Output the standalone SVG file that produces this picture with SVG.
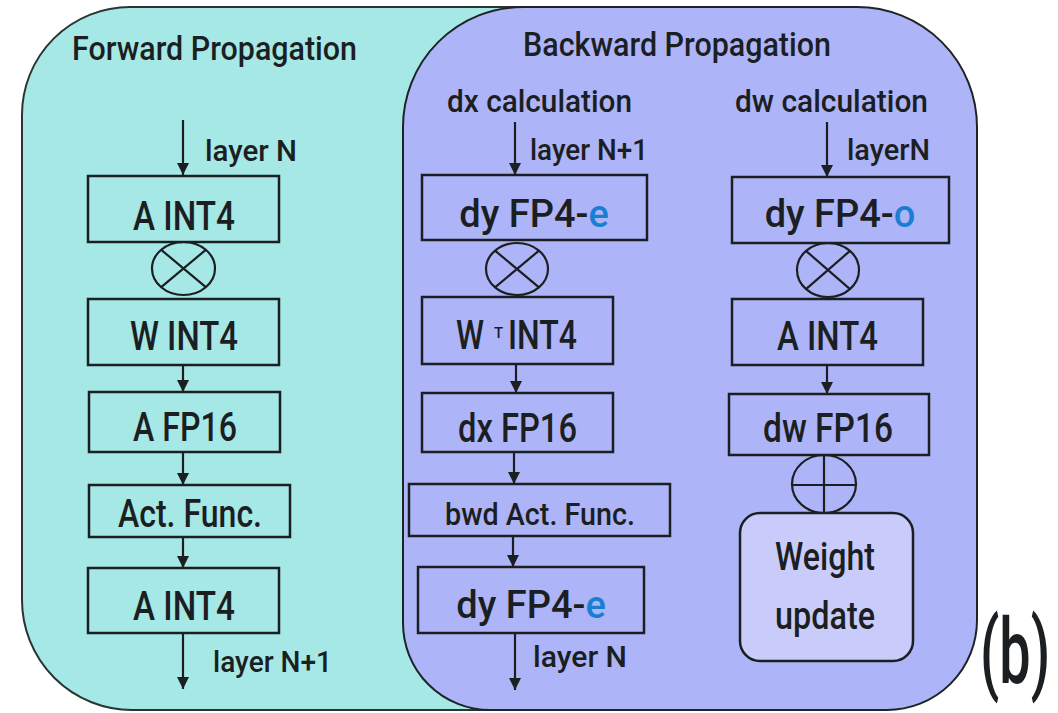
<svg xmlns="http://www.w3.org/2000/svg" width="1058" height="713" viewBox="0 0 1058 713">
<style>
text{font-family:Roboto,"Liberation Sans",sans-serif;font-weight:500;fill:#1b1f22}
.box{fill:none;stroke:#1b1f22;stroke-width:2.5}
.op{fill:none;stroke:#1b1f22;stroke-width:2.2}
.wire{fill:none;stroke:#1b1f22;stroke-width:2.2}
.lbl{font-size:41px}
.blue{fill:#1a7fd2}
.mid{text-anchor:middle}
</style>
<defs>
<marker id="ah" markerUnits="userSpaceOnUse" markerWidth="14" markerHeight="13" refX="12" refY="6" orient="auto">
<path d="M0,0 L12,6 L0,12 Z" fill="#1b1f22"/>
</marker>
</defs>
<rect width="1058" height="713" fill="#ffffff"/>
<g id="forward-panel">
<path d="M22,115 A108,108 0 0 1 130,7 L540,7 L540,710 L132,710 A110,110 0 0 1 22,600 Z" fill="#a6e8e6" stroke="#2a3434" stroke-width="2"/>
<text x="72" y="60" font-size="34" font-weight="700" textLength="285" lengthAdjust="spacingAndGlyphs">Forward Propagation</text>
</g>
<g id="backward-panel">
<path d="M403,127 A120,120 0 0 1 523,7 L857,7 A120,120 0 0 1 977,127 L977,620 A90,90 0 0 1 887,710 L490,710 A87,87 0 0 1 403,623 Z" fill="#aeb4f8" stroke="#1e2326" stroke-width="2"/>
<text x="523" y="56" font-size="34" textLength="308" lengthAdjust="spacingAndGlyphs">Backward Propagation</text>
<text x="447" y="112" font-size="32" textLength="185" lengthAdjust="spacingAndGlyphs">dx calculation</text>
<text x="735" y="112" font-size="32" textLength="193" lengthAdjust="spacingAndGlyphs">dw calculation</text>
</g>
<g id="connectors">
<line class="wire" x1="183" y1="120" x2="183" y2="175" marker-end="url(#ah)"/>
<line class="wire" x1="183" y1="365" x2="183" y2="392" marker-end="url(#ah)"/>
<line class="wire" x1="183" y1="452" x2="183" y2="485" marker-end="url(#ah)"/>
<line class="wire" x1="183" y1="537" x2="183" y2="568" marker-end="url(#ah)"/>
<line class="wire" x1="183" y1="633" x2="183" y2="689" marker-end="url(#ah)"/>
<line class="wire" x1="515" y1="122" x2="515" y2="175" marker-end="url(#ah)"/>
<line class="wire" x1="516" y1="364" x2="516" y2="393" marker-end="url(#ah)"/>
<line class="wire" x1="514" y1="452" x2="514" y2="484" marker-end="url(#ah)"/>
<line class="wire" x1="513" y1="536" x2="513" y2="567" marker-end="url(#ah)"/>
<line class="wire" x1="515" y1="633" x2="515" y2="690" marker-end="url(#ah)"/>
<line class="wire" x1="827" y1="122" x2="827" y2="177" marker-end="url(#ah)"/>
<line class="wire" x1="827" y1="365" x2="827" y2="394" marker-end="url(#ah)"/>
<text x="205" y="161" font-size="29" textLength="92" lengthAdjust="spacingAndGlyphs">layer N</text>
<text x="213" y="672" font-size="29" textLength="119" lengthAdjust="spacingAndGlyphs">layer N+1</text>
<text x="530" y="160" font-size="29" textLength="118" lengthAdjust="spacingAndGlyphs">layer N+1</text>
<text x="847" y="160" font-size="29" textLength="83" lengthAdjust="spacingAndGlyphs">layerN</text>
<text x="533" y="667" font-size="29" textLength="94" lengthAdjust="spacingAndGlyphs">layer N</text>
</g>
<g id="f-a-int4-in">
<rect class="box" x="88" y="176" width="191" height="66"/>
<text class="lbl" x="133" y="230" textLength="102" lengthAdjust="spacingAndGlyphs">A INT4</text>
</g>
<g id="f-mul">
<ellipse class="op" cx="183.5" cy="268.5" rx="31.5" ry="26.5"/>
<path class="op" d="M161.2,249.8 L205.8,287.2 M205.8,249.8 L161.2,287.2"/>
</g>
<g id="f-w-int4">
<rect class="box" x="88" y="299" width="191" height="66"/>
<text class="lbl" x="130" y="350" textLength="108" lengthAdjust="spacingAndGlyphs">W INT4</text>
</g>
<g id="f-a-fp16">
<rect class="box" x="89" y="392" width="191" height="60"/>
<text class="lbl" x="133" y="441" textLength="104" lengthAdjust="spacingAndGlyphs">A FP16</text>
</g>
<g id="f-act">
<rect class="box" x="89" y="485" width="201" height="52"/>
<text x="118" y="527" font-size="38" textLength="144" lengthAdjust="spacingAndGlyphs">Act. Func.</text>
</g>
<g id="f-a-int4-out">
<rect class="box" x="88" y="568" width="191" height="65"/>
<text class="lbl" x="133" y="620" textLength="102" lengthAdjust="spacingAndGlyphs">A INT4</text>
</g>
<g id="dx-dy-in">
<rect class="box" x="422" y="175" width="225" height="65"/>
<text class="mid" x="534" y="227" font-size="38">dy FP4-<tspan class="blue">e</tspan></text>
</g>
<g id="dx-mul">
<ellipse class="op" cx="517" cy="269" rx="31" ry="26"/>
<path class="op" d="M495,250.6 L539,287.4 M539,250.6 L495,287.4"/>
</g>
<g id="dx-wt-int4">
<rect class="box" x="422" y="297" width="191" height="67"/>
<text class="lbl" x="456" y="349" textLength="28" lengthAdjust="spacingAndGlyphs">W</text>
<text x="494" y="338" font-size="15">T</text>
<text class="lbl" x="508" y="349" textLength="69" lengthAdjust="spacingAndGlyphs">INT4</text>
</g>
<g id="dx-fp16">
<rect class="box" x="422" y="393" width="191" height="59"/>
<text class="lbl" x="458" y="442" textLength="119" lengthAdjust="spacingAndGlyphs">dx FP16</text>
</g>
<g id="dx-bwd-act">
<rect class="box" x="409" y="484" width="261" height="52"/>
<text x="445" y="525" font-size="31" textLength="190" lengthAdjust="spacingAndGlyphs">bwd Act. Func.</text>
</g>
<g id="dx-dy-out">
<rect class="box" x="418" y="567" width="226" height="66"/>
<text class="mid" x="531" y="618" font-size="38">dy FP4-<tspan class="blue">e</tspan></text>
</g>
<g id="dw-dy-in">
<rect class="box" x="732" y="177" width="217" height="66"/>
<text class="mid" x="840" y="227" font-size="38">dy FP4-<tspan class="blue">o</tspan></text>
</g>
<g id="dw-mul">
<ellipse class="op" cx="828" cy="270" rx="31" ry="27"/>
<path class="op" d="M806,250.9 L850,289.1 M850,250.9 L806,289.1"/>
</g>
<g id="dw-a-int4">
<rect class="box" x="732" y="299" width="191" height="66"/>
<text class="lbl" x="777" y="350" textLength="101" lengthAdjust="spacingAndGlyphs">A INT4</text>
</g>
<g id="dw-fp16">
<rect class="box" x="729" y="394" width="200" height="61"/>
<text class="lbl" x="763" y="442" textLength="130" lengthAdjust="spacingAndGlyphs">dw FP16</text>
</g>
<g id="dw-add">
<ellipse class="op" cx="824" cy="484" rx="32" ry="29"/>
<path class="op" d="M824,455 L824,513 M792,485 L856,485"/>
</g>
<g id="weight-update">
<rect x="740" y="513" width="173" height="148" rx="20" fill="#c9ccfa" stroke="#1b1f22" stroke-width="2.5"/>
<text x="775" y="570" font-size="38" textLength="100" lengthAdjust="spacingAndGlyphs">Weight</text>
<text x="775" y="629" font-size="38" textLength="100" lengthAdjust="spacingAndGlyphs">update</text>
</g>
<g id="caption">
<text transform="translate(980,683) scale(0.62,1)" font-size="90" font-weight="400">(b)</text>
</g>
</svg>
